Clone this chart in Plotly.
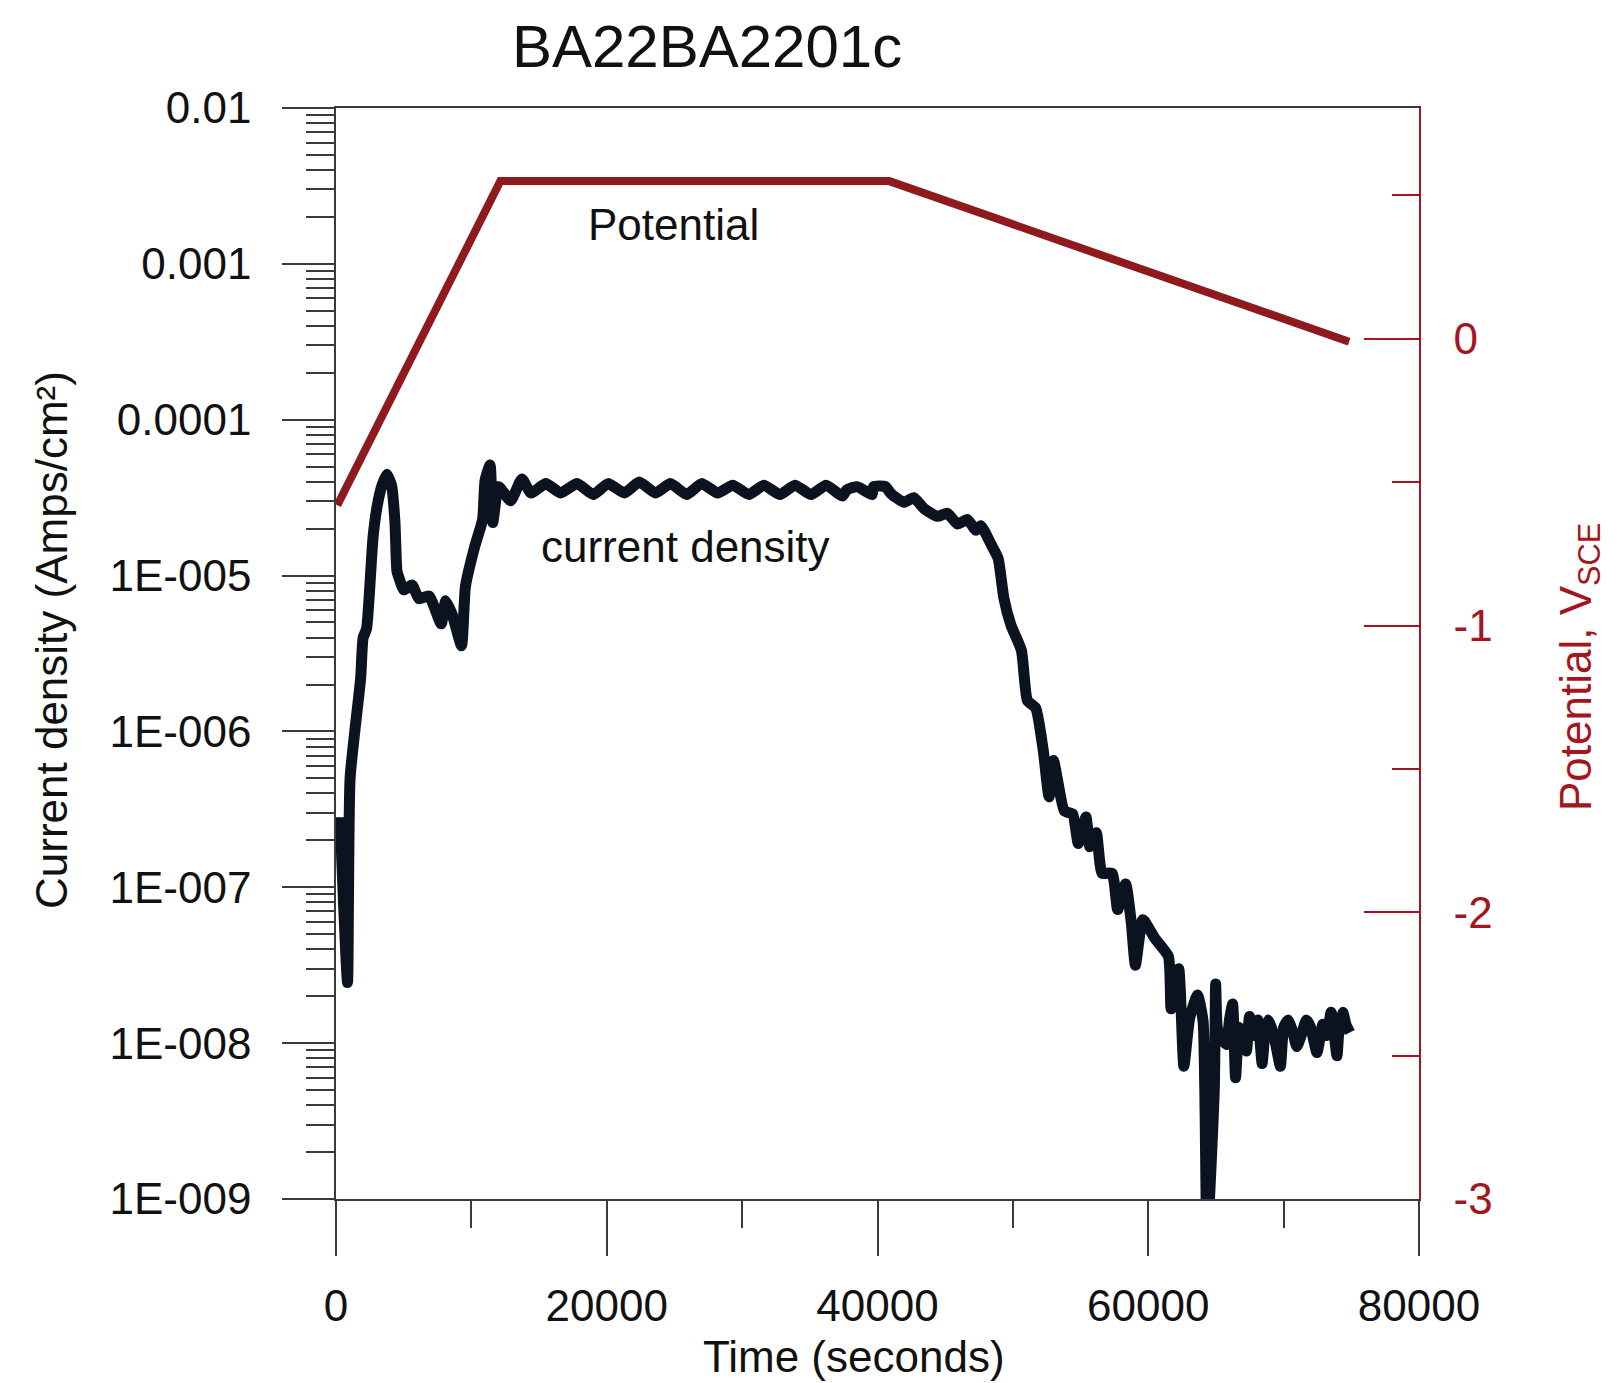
import plotly.graph_objects as go

# ---------------- data ----------------
time_current = [
    300, 850, 1040, 1820, 2000, 2260, 2730, 3050, 3400, 3750, 4100, 4350, 4500, 4630,
    5010, 5620, 6130, 6870, 7770, 8100, 8590, 9270, 9560, 10260, 10830, 11010, 11380,
    11580, 12020, 12900, 13730, 14400, 15500, 16600, 17800, 19000, 20100, 21300, 22400,
    23600, 24700, 25900, 27000, 28200, 29300, 30500, 31600, 32800, 33900, 35100, 36200,
    37400, 37740, 38500, 39600, 39710, 40600, 40945, 41950, 42680, 43440, 44430, 45160,
    45910, 46650, 47270, 47630, 48400, 48910, 49330, 49860, 50630, 51070, 51690, 52240,
    52670, 53000, 53800, 54420, 54830, 55400, 55690, 56160, 56590, 57330, 57740, 58330,
    58750, 59050, 59600, 60490, 61490, 61690, 62250, 62630, 63060, 63640, 64050, 64340,
    64880, 64980, 65100, 65420, 65790, 66000, 66230, 66450, 66700, 67020, 67250, 67480,
    67800, 68100, 68410, 68600, 68850, 69100, 69400, 69760, 70000, 70330, 70650, 70970,
    71300, 71680, 72000, 72460, 72900, 73200, 73510, 73940, 74100, 74370, 74600, 74890,
]
current_density = [
    2.82e-7, 2.45e-8, 5.0e-7, 2.19e-6, 3.98e-6, 4.57e-6, 1.74e-5, 2.82e-5, 3.80e-5, 4.47e-5,
    3.80e-5, 2.24e-5, 1.07e-5, 9.8e-6, 8.1e-6, 8.7e-6, 7.1e-6, 7.4e-6, 4.9e-6, 6.9e-6,
    5.6e-6, 3.55e-6, 8.5e-6, 1.55e-5, 2.29e-5, 4.07e-5, 5.13e-5, 2.19e-5, 3.72e-5, 3.02e-5,
    4.17e-5, 3.39e-5, 3.89e-5, 3.39e-5, 3.89e-5, 3.31e-5, 3.89e-5, 3.39e-5, 3.98e-5,
    3.39e-5, 3.89e-5, 3.31e-5, 3.89e-5, 3.39e-5, 3.80e-5, 3.31e-5, 3.80e-5, 3.31e-5,
    3.80e-5, 3.31e-5, 3.80e-5, 3.24e-5, 3.55e-5, 3.72e-5, 3.31e-5, 3.72e-5, 3.72e-5,
    3.39e-5, 2.95e-5, 3.16e-5, 2.69e-5, 2.40e-5, 2.51e-5, 2.14e-5, 2.29e-5, 1.95e-5,
    2.09e-5, 1.58e-5, 1.29e-5, 7.2e-6, 4.8e-6, 3.31e-6, 1.58e-6, 1.41e-6, 7.6e-7, 3.8e-7,
    6.5e-7, 3.09e-7, 2.95e-7, 1.91e-7, 2.82e-7, 1.82e-7, 2.24e-7, 1.23e-7, 1.23e-7, 7.2e-8,
    1.05e-7, 5.9e-8, 3.16e-8, 6.2e-8, 4.7e-8, 3.6e-8, 1.66e-8, 3.0e-8, 7.1e-9, 1.45e-8,
    2.04e-8, 1.38e-8, 5.5e-10, 5.1e-9, 2.4e-8, 1.26e-8, 1.07e-8, 9.8e-9, 1.41e-8, 1.78e-8,
    6.0e-9, 1.26e-8, 1.02e-8, 8.9e-9, 1.48e-8, 1.12e-8, 1.41e-8, 7.4e-9, 1.12e-8, 1.41e-8,
    1.26e-8, 1.0e-8, 7.1e-9, 1.26e-8, 1.41e-8, 1.20e-8, 9.5e-9, 1.12e-8, 1.41e-8, 1.26e-8,
    8.7e-9, 1.32e-8, 1.12e-8, 1.58e-8, 8.3e-9, 1.26e-8, 1.58e-8, 1.32e-8, 1.17e-8,
]

time_potential = [100, 12140, 40870, 74840]
potential = [-0.58, 0.55, 0.55, -0.01]

x_tick_values = [0, 20000, 40000, 60000, 80000]
x_tick_labels = ["0", "20000", "40000", "60000", "80000"]
x_minor_values = [10000, 30000, 50000, 70000]

y_tick_values = [1e-9, 1e-8, 1e-7, 1e-6, 1e-5, 1e-4, 1e-3, 1e-2]
y_tick_labels = ["1E-009", "1E-008", "1E-007", "1E-006", "1E-005", "0.0001", "0.001", "0.01"]
y_minor_values = [m * d for d in y_tick_values[:-1] for m in range(2, 10)]

y2_tick_values = [-3, -2, -1, 0]
y2_tick_labels = ["-3", "-2", "-1", "0"]
y2_minor_values = [-2.5, -1.5, -0.5, 0.5]

# ---------------- styling ----------------
FONT = "Liberation Sans, Arial, sans-serif"
AX = "#3a3a3a"
RED = "#a3161d"
LINE_RED = "#8e1a1e"
INK = "#111111"

fig = go.Figure()
fig.add_trace(go.Scatter(
    x=time_current, y=current_density, mode="lines", yaxis="y",
    line=dict(color="#0c1320", width=11, shape="spline", smoothing=0.5),
    showlegend=False,
))
fig.add_trace(go.Scatter(
    x=time_potential, y=potential, mode="lines", yaxis="y2",
    line=dict(color=LINE_RED, width=8), showlegend=False,
))


def label(text, x, y, color=INK, angle=0):
    return dict(text=text, xref="paper", yref="paper", x=x, y=y,
                xanchor="center", yanchor="middle", textangle=angle,
                showarrow=False, font=dict(size=44, color=color))


fig.update_layout(
    width=1618, height=1383,
    margin=dict(l=336, r=199, t=108, b=184),
    paper_bgcolor="white", plot_bgcolor="white",
    font=dict(family=FONT, size=44, color=INK),
    title=dict(text="BA22BA2201c", font=dict(size=60, color=INK),
               x=0.3426, xref="paper", xanchor="center",
               y=1 - 46 / 1383, yref="container", yanchor="middle"),
    xaxis=dict(
        range=[0, 80000], tickvals=x_tick_values, ticktext=x_tick_labels,
        showline=True, linecolor=AX, linewidth=1.5, mirror=True,
        ticks="outside", ticklen=55, tickwidth=1.5, tickcolor=AX,
        minor=dict(tickvals=x_minor_values, ticks="outside", ticklen=27,
                   tickwidth=1.5, tickcolor=AX, showgrid=False),
        showgrid=False, zeroline=False, ticklabelstandoff=12,
        tickfont=dict(size=44, color=INK),
    ),
    yaxis=dict(
        type="log", range=[-9, -2], tickvals=y_tick_values, ticktext=y_tick_labels,
        showline=True, linecolor=AX, linewidth=1.5,
        ticks="outside", ticklen=52, tickwidth=1.5, tickcolor=AX,
        minor=dict(tickvals=y_minor_values, ticks="outside", ticklen=28,
                   tickwidth=1.5, tickcolor=AX, showgrid=False),
        showgrid=False, zeroline=False, ticklabelstandoff=22,
        tickfont=dict(size=44, color=INK),
    ),
    yaxis2=dict(
        overlaying="y", side="right", range=[-3, 0.805],
        tickvals=y2_tick_values, ticktext=y2_tick_labels,
        showline=True, linecolor=RED, linewidth=1.5,
        ticks="inside", ticklen=55, tickwidth=1.5, tickcolor=RED,
        minor=dict(tickvals=y2_minor_values, ticks="inside", ticklen=27,
                   tickwidth=1.5, tickcolor=RED, showgrid=False),
        showgrid=False, zeroline=False, ticklabelstandoff=24,
        tickfont=dict(size=44, color=RED),
    ),
    annotations=[
        label("Potential", 0.312, 0.893),
        label("current density", 0.323, 0.598),
        label("Time (seconds)", 0.4783, -0.1448),
        label("Current density (Amps/cm²)", -0.2622, 0.5124, angle=-90),
        label("Potential, V<sub>SCE</sub>", 1.1477, 0.4876, color=RED, angle=-90),
    ],
)

fig.write_html("out.html")
